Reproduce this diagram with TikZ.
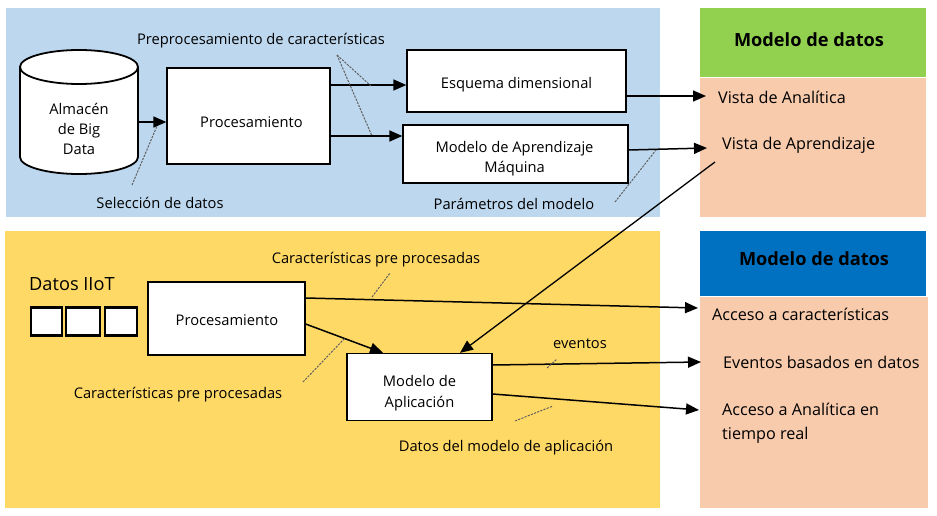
\documentclass[tikz,border=0pt]{standalone}
\usepackage{fontspec}
\setmainfont{Open Sans}
\usetikzlibrary{arrows.meta}
\definecolor{panelblue}{HTML}{BDD7EE}
\definecolor{panelyellow}{HTML}{FFD966}
\definecolor{hdrgreen}{HTML}{92D050}
\definecolor{hdrblue}{HTML}{0070C0}
\definecolor{peach}{HTML}{F8CBAD}
\tikzset{
  box/.style={draw=black, fill=white, line width=1.3pt, inner sep=0pt},
  lbl/.style={inner sep=0pt, align=center, font=\fontsize{14.7}{20}\selectfont},
  llbl/.style={inner sep=0pt, align=left, anchor=west, font=\fontsize{16.2}{23.5}\selectfont},
  hdr/.style={inner sep=0pt, font=\bfseries\fontsize{18.2}{20}\selectfont},
  arr/.style={line width=1.5pt, -{Triangle[length=13pt,width=11pt]}},
  callout/.style={gray!75!black, line width=1pt, dash pattern=on 2.2pt off 1.2pt},
  sq/.style={draw=black, fill=white, line width=2.8pt, inner sep=0pt},
}
\begin{document}
\begin{tikzpicture}[x=1pt,y=-1pt]
\useasboundingbox (0,0) rectangle (937,516);
\fill[white] (0,0) rectangle (937,516);
% panels
\fill[panelblue] (6,8) rectangle (660,217);
\fill[panelyellow] (5,231) rectangle (660,508);
\node[fill=hdrgreen, minimum width=226pt, minimum height=69pt, inner sep=0pt] (hdr1) at (813,42.5) {};
\node[hdr] (hdr1t) at ([xshift=-4pt,yshift=3pt]hdr1) {Modelo de datos};
\node[fill=peach, minimum width=226pt, minimum height=139pt, inner sep=0pt] (view1) at (813,147.5) {};
\node[fill=hdrblue, minimum width=226pt, minimum height=65pt, inner sep=0pt] (hdr2) at (813,263.5) {};
\node[hdr] (hdr2t) at ([xshift=1pt,yshift=5pt]hdr2) {Modelo de datos};
\node[fill=peach, minimum width=228pt, minimum height=211pt, inner sep=0pt] (view2) at (814,402.5) {};

% cylinder
\node[minimum width=118pt, minimum height=124pt, inner sep=0pt] (db) at (79,112) {};
\draw[line width=1.8pt, fill=white] (20,67) -- (20,157) arc[start angle=180, end angle=0, x radius=59, y radius=17] -- (138,67);
\draw[line width=1.8pt, fill=white] (79,67) ellipse[x radius=59, y radius=17];
\node[lbl] (dbt) at (79,129) {Almacén\\de Big\\Data};

% top boxes
\node[box, minimum width=163pt, minimum height=96pt] (p1) at (248.5,116) {};
\node[lbl] (p1t) at (251.5,122) {Procesamiento};
\node[box, minimum width=219pt, minimum height=62pt] (esq) at (516.5,81) {};
\node[lbl] (esqt) at (516.5,85) {Esquema dimensional};
\node[box, minimum width=225pt, minimum height=58pt] (ml) at (515.5,154) {};
\node[lbl] (mlt) at (514.5,159) {Modelo de Aprendizaje\\Máquina};

% right texts
\node[llbl] (va) at (718,97) {Vista de Analítica};
\node[llbl] (vap) at (722,145) {Vista de Aprendizaje};
\node[llbl] (ac) at (712,314) {Acceso a características};
\node[llbl] (ev) at (723,362) {Eventos basados en datos};
\node[llbl, anchor=north west] (aa) at (722,403) {Acceso a Analítica en\\tiempo real};

% top labels
\node[lbl] (lpre) at (261,41) {Preprocesamiento de características};
\node[lbl] (lsel) at (160,203) {Selección de datos};
\node[lbl] (lpar) at (514,204) {Parámetros del modelo};

% bottom
\node[inner sep=0pt, anchor=west, font=\fontsize{18.2}{20}\selectfont] (iiot) at (29,284) {Datos IIoT};
\node[sq, minimum width=31pt, minimum height=28pt] (s1) at (46.5,321.5) {};
\node[sq, minimum width=34pt, minimum height=28pt] (s2) at (83,321.5) {};
\node[sq, minimum width=32pt, minimum height=28pt] (s3) at (121,321.5) {};
\node[box, minimum width=157pt, minimum height=73pt] (p2) at (226.5,318.5) {};
\node[lbl] (p2t) at (227,320.5) {Procesamiento};
\node[box, minimum width=145pt, minimum height=67pt] (app) at (419.5,387) {};
\node[lbl, font=\fontsize{14.7}{21}\selectfont] (appt) at (419.5,393) {Modelo de\\Aplicación};
\node[lbl] (lc1) at (376,260) {Características pre procesadas};
\node[lbl] (lc2) at (178,395) {Características pre procesadas};
\node[lbl] (lev) at (580,344) {eventos};
\node[lbl] (ldat) at (506,448) {Datos del modelo de aplicación};

% arrows top
\draw[arr] (db.east |- 0,122) -- (p1.west |- 0,122);
\draw[arr] ([yshift=31pt]p1.east) -- ([yshift=-4pt]esq.west);
\draw[arr] ([yshift=-20pt]p1.east) -- ([yshift=18pt]ml.west);
\draw[arr] ([yshift=-15pt]esq.east) -- ([xshift=-12pt,yshift=1pt]va.west);
\draw[arr] ([yshift=4pt]ml.east) -- ([xshift=-15pt,yshift=-3pt]vap.west);
\draw[arr, line width=1.3pt] ([xshift=-7pt,yshift=-17pt]vap.west) -- ([xshift=40.5pt]app.north);

% arrows bottom
\draw[arr] ([yshift=20.5pt]p2.east) -- ([xshift=-14pt,yshift=6pt]ac.west);
\draw[arr] ([yshift=-5.5pt]p2.east) -- ([xshift=-36.5pt]app.north);
\draw[arr] ([yshift=22pt]app.east) -- ([xshift=-22pt]ev.west);
\draw[arr] ([yshift=-7pt]app.east) -- ([xshift=-23pt,yshift=-7pt]aa.north west);

% callouts
\coordinate (k1) at (337,55);
\draw[callout] (k1) -- (371,86);
\draw[callout] (k1) -- (372,136);
\draw[callout] (132,185) -- (157,126);
\draw[callout] (615,202) -- (656,150);
\draw[callout] (372,297) -- (390,273);
\draw[callout] (303,382) -- (345,338);
\draw[callout] (547,368) -- (557,359);
\draw[callout] (515,421) -- (553,406);
\end{tikzpicture}
\end{document}
